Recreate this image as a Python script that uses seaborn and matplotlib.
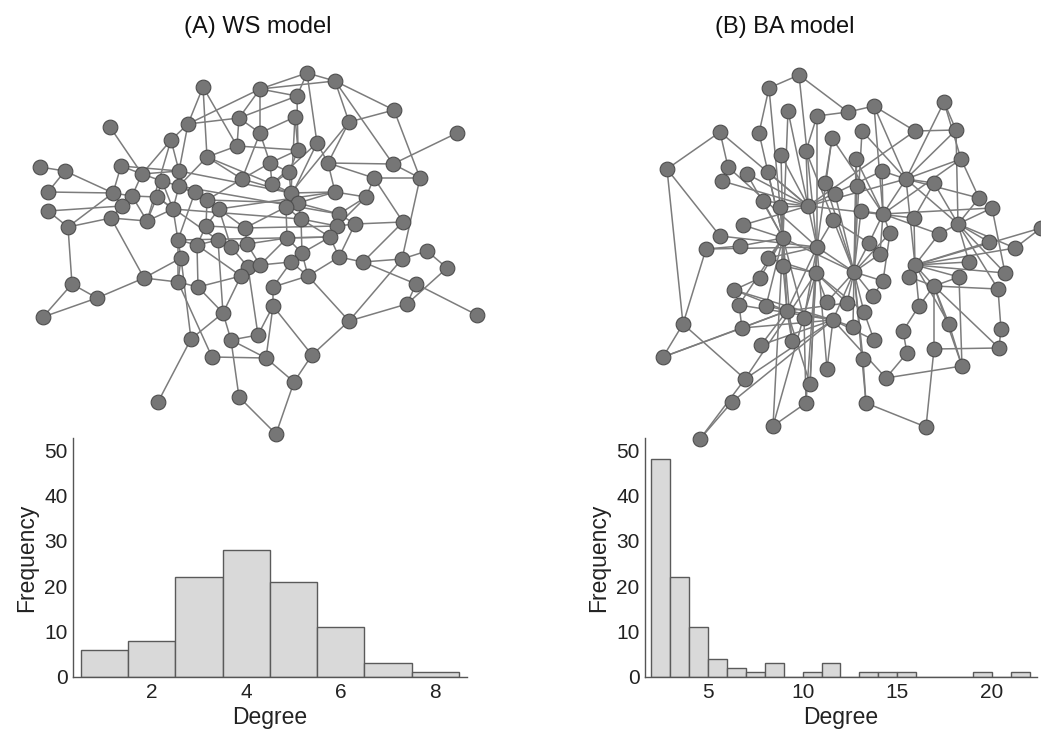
import matplotlib.pyplot as plt
import seaborn as sns
from matplotlib.collections import LineCollection
from matplotlib.ticker import MultipleLocator

# ======| Degree histograms |======
ws_degree = [1, 2, 3, 4, 5, 6, 7, 8]
ws_count = [6, 8, 22, 28, 21, 11, 3, 1]

ba_degree = list(range(2, 22))
ba_count = [48, 22, 11, 4, 2, 1, 3, 0, 1, 3, 0, 1, 1, 1, 0, 0, 0, 1, 0, 1]

# ======| Network layouts (node positions as drawn, picture units) |======
ws_x = [203, 260, 239, 188, 110, 260, 171, 237, 207, 40, 65, 121, 142, 179, 162, 242, 179, 195, 48, 113,
        132, 157, 207, 122, 219, 173, 48, 111, 147, 68, 206, 245, 178, 197, 218, 231, 247, 307, 335, 297,
        394, 295, 349, 457, 317, 298, 270, 328, 393, 289, 374, 420, 272, 335, 291, 366, 298, 286, 301, 339,
        337, 355, 403, 287, 330, 427, 302, 181, 248, 260, 241, 72, 144, 178, 198, 97, 43, 223, 191, 231,
        258, 212, 266, 158, 239, 339, 363, 402, 447, 291, 308, 416, 273, 273, 407, 477, 349, 312, 294, 276]
ws_y = [87, 89, 118, 124, 127, 133, 140, 146, 157, 167, 171, 166, 174, 171, 181, 179, 186, 192, 192, 193,
        196, 197, 200, 206, 209, 209, 211, 218, 221, 227, 226, 228, 240, 245, 240, 247, 244, 73, 81, 96,
        110, 117, 122, 133, 143, 150, 163, 163, 164, 172, 178, 178, 184, 192, 193, 197, 203, 207, 219, 214,
        226, 224, 222, 238, 237, 251, 253, 258, 267, 265, 276, 284, 278, 282, 287, 298, 317, 313, 339, 340,
        335, 357, 358, 402, 397, 257, 262, 259, 268, 262, 276, 284, 287, 306, 304, 315, 321, 355, 382, 434]
ws_edges = """
1-4 1-8 1-9 2-4 2-3 2-6 2-38 2-39 2-40 3-4 3-6 3-8 3-40 4-7 4-14 5-13 6-42 6-47 6-16 7-13 7-14 7-29
8-9 8-46 9-16 9-17 9-53 10-11 11-19 11-20 12-13 12-14 12-20 13-14 13-15 13-21 14-17 14-55 15-17 15-22
15-26 16-23 16-47 16-55 17-18 17-26 17-23 17-60 18-23 18-25 18-33 19-20 20-21 20-24 20-30 21-22 21-24
21-29 22-26 22-29 22-35 23-25 23-31 23-57 24-27 24-28 25-31 25-32 25-36 25-54 26-29 26-33 26-59 27-30
28-30 28-73 28-29 30-72 31-34 31-32 32-37 32-58 32-61 33-34 33-68 33-74 33-65 34-35 34-75 34-71 35-36
35-78 36-37 36-69 37-64 37-70 38-39 38-40 38-45 39-43 39-41 39-49 40-46 41-43 41-52 42-46 42-55 43-48
43-55 44-49 45-48 45-58 45-53 46-47 46-50 47-50 47-53 48-49 48-51 48-54 49-52 50-53 50-55 51-52 51-56
51-63 52-88 53-55 54-55 54-56 54-57 55-57 55-58 56-60 56-61 57-59 57-60 58-59 58-64 59-61 59-65 59-67
60-61 60-62 60-65 61-62 62-63 62-86 63-87 64-65 64-67 64-70 65-67 65-86 66-89 66-88 67-90 67-91 68-74
68-79 68-73 69-70 69-71 69-81 70-71 70-90 71-75 71-78 72-76 72-77 73-74 73-76 74-75 74-82 75-78 76-77
78-79 78-80 79-84 80-81 80-85 80-83 81-94 82-83 83-99 83-94 85-100 86-87 86-91 87-88 87-92 88-97 89-95
90-93 90-91 91-97 91-93 92-96 92-95 93-94 94-98 95-97 97-98 98-99 99-100
"""

ba_x = [799, 769, 788, 817, 848, 720, 759, 832, 806, 781, 667, 728, 747, 768, 722, 825, 835, 763, 780, 808,
        833, 743, 720, 783, 740, 706, 817, 944, 874, 862, 915, 956, 856, 961, 882, 906, 934, 857, 979, 992,
        861, 883, 914, 958, 890, 939, 989, 869, 1015, 1041, 880, 768, 783, 816, 760, 734, 739, 766, 787, 827,
        847, 804, 833, 683, 742, 792, 761, 663, 827, 745, 810, 732, 806, 773, 700, 854, 915, 969, 1005, 883,
        909, 959, 934, 998, 873, 919, 864, 853, 949, 1001, 903, 874, 934, 999, 907, 863, 962, 886, 866, 926]
ba_y = [75, 88, 111, 116, 112, 132, 133, 138, 151, 155, 169, 167, 174, 172, 181, 183, 194, 201, 207, 206,
        220, 225, 236, 238, 246, 249, 247, 102, 106, 131, 131, 130, 159, 159, 171, 179, 183, 186, 198, 208,
        211, 214, 218, 224, 233, 234, 242, 243, 248, 228, 254, 258, 266, 273, 278, 290, 305, 306, 311, 302,
        303, 318, 320, 324, 328, 341, 345, 357, 369, 379, 384, 402, 403, 426, 439, 272, 265, 262, 273, 281,
        277, 277, 286, 289, 296, 306, 312, 327, 324, 329, 331, 340, 349, 348, 353, 359, 366, 378, 403, 427]
ba_edges = """
76-9 76-16 76-17 76-24 76-27 76-33 76-38 76-41 76-45 76-48 76-51 76-60 76-61 76-63 76-80 76-85 76-87
76-88 76-96 76-99 76-30
24-2 24-3 24-10 24-14 24-18 24-19 24-22 24-25 24-52 24-53 24-55 24-57 24-58 24-59 24-62 24-66 24-74
24-13 24-7
27-4 27-8 27-20 27-21 27-54 27-59 27-62 27-69 27-71 27-73 27-23 27-26 27-52 27-12 27-1
20-3 20-9 20-10 20-14 20-15 20-18 20-19 20-22 20-31 20-36 20-43 20-6 20-13 20-35
77-36 77-43 77-46 77-47 77-49 77-50 77-78 77-79 77-81 77-82 77-83 77-86 77-89
36-29 36-30 36-32 36-34 36-35 36-37 36-39 36-42 36-28 36-44
42-29 42-33 42-35 42-41 42-45 42-46 42-48 42-51 42-40 42-34 42-8
63-56 63-57 63-58 63-65 63-67 63-69 63-70 63-72 63-88 63-92 63-98
44-39 44-40 44-46 44-47 44-49 44-32 44-37 44-78 44-79 44-84
83-81 83-82 83-84 83-86 83-89 83-93 83-94 83-97
59-56 59-65 59-66 59-67 59-68 59-61 59-71 59-53
54-53 54-61 54-70 54-71 54-74 54-60 54-52 54-87
1-2 1-5 2-7 6-11 6-12 11-23 26-64 64-68 64-70 68-65 75-72 75-70 74-73 100-99 100-93 98-97 97-82
90-84 90-94 95-91 95-98 91-86 92-87 85-80 89-97 79-40 49-50 28-32 28-34 32-31 34-39 15-12 5-29
5-4 16-17 33-38 8-16 25-26 55-56 57-65 62-73 96-99 93-94 29-31 11-64 21-48 37-43 45-80 9-4
"""


def parse_edges(text):
    pairs = []
    for item in text.split():
        a, b = item.split("-")
        pairs.append((int(a) - 1, int(b) - 1))
    return pairs


def draw_network(ax, xs, ys, edges):
    segs = [[(xs[a], ys[a]), (xs[b], ys[b])] for a, b in edges]
    ax.add_collection(LineCollection(segs, colors="#7c7c7c", linewidths=1.1, zorder=1))
    sns.scatterplot(x=xs, y=ys, ax=ax, s=112, color="#767676", edgecolor="#4e4e4e",
                    linewidth=0.8, zorder=3, legend=False)


def style_hist(ax, xlim, xmajor):
    ax.set_xlim(*xlim)
    ax.set_ylim(0, 52.7)
    ax.set_xlabel("Degree", fontsize=16.5, color="#222222", labelpad=3)
    ax.set_ylabel("Frequency", fontsize=16.5, color="#222222", labelpad=4)
    ax.yaxis.set_major_locator(MultipleLocator(10))
    ax.yaxis.set_minor_locator(MultipleLocator(2))
    ax.xaxis.set_major_locator(MultipleLocator(xmajor))
    ax.xaxis.set_minor_locator(MultipleLocator(1))
    for side in ["top", "right"]:
        ax.spines[side].set_visible(False)
    for side in ["left", "bottom"]:
        ax.spines[side].set_color("#555555")
        ax.spines[side].set_linewidth(1.0)
    ax.tick_params(which="major", direction="in", length=4, width=0.8, color="#555555",
                   labelsize=15, labelcolor="#222222", pad=4)
    ax.tick_params(which="minor", direction="in", length=2, width=0.6, color="#555555")


sns.set_theme(style="white")
plt.rcParams["font.family"] = ["Liberation Sans", "DejaVu Sans"]

fig = plt.figure(figsize=(10.41, 7.31), dpi=100)

# ======| Histograms |======
ax_a = fig.add_axes([0.0701, 0.0739, 0.3785, 0.327])
sns.histplot(x=ws_degree, weights=ws_count, discrete=True, ax=ax_a,
             color="#d9d9d9", edgecolor="#5a5a5a", linewidth=1.0, alpha=1)
style_hist(ax_a, (0.33, 8.67), 2)

ax_b = fig.add_axes([0.6196, 0.0739, 0.3766, 0.327])
sns.histplot(x=ba_degree, weights=ba_count, bins=list(range(2, 23)), ax=ax_b,
             color="#d9d9d9", edgecolor="#5a5a5a", linewidth=1.0, alpha=1)
style_hist(ax_b, (1.68, 22.38), 5)

# ======| Networks |======
net_ax = fig.add_axes([0, 0, 1, 1], zorder=5)
net_ax.set_xlim(0, 1041)
net_ax.set_ylim(731, 0)
net_ax.axis("off")
net_ax.patch.set_alpha(0)

draw_network(net_ax, ws_x, ws_y, parse_edges(ws_edges))
draw_network(net_ax, ba_x, ba_y, parse_edges(ba_edges))

fig.text(0.248, 0.963, "(A) WS model", ha="center", va="center", fontsize=17, color="#111111")
fig.text(0.754, 0.963, "(B) BA model", ha="center", va="center", fontsize=17, color="#111111")

fig.savefig("out.png", dpi=100)
